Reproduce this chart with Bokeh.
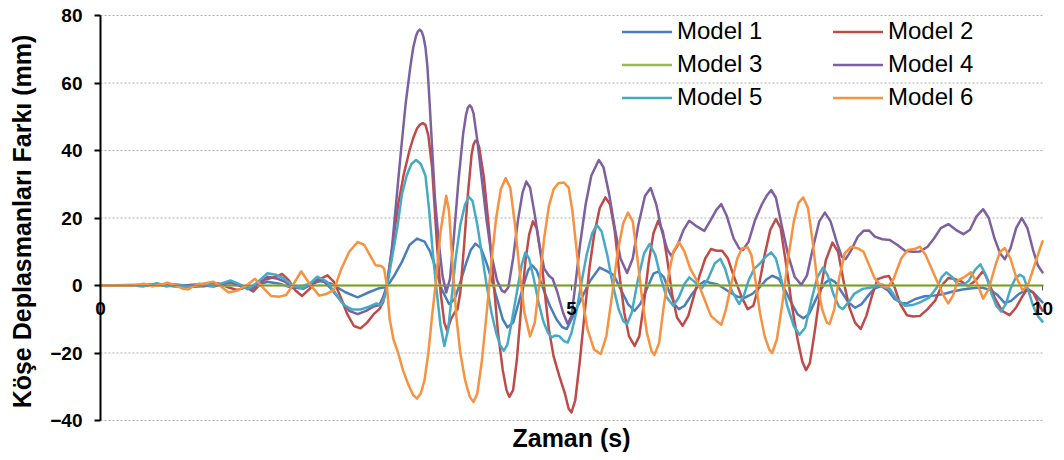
import math

from bokeh.plotting import figure
from bokeh.models import Range1d, FixedTicker, Legend, LegendItem, Label
from bokeh.embed import file_html
from bokeh.resources import INLINE

# Time axis (s) and corner displacement difference (mm) for each model
T1 = [0, 0.5, 0.8, 1.0, 1.2, 1.4, 1.6, 1.77, 1.9, 2.05,
      2.2, 2.34, 2.45, 2.6, 2.73, 2.85, 2.96, 3.02, 3.05, 3.12,
      3.2, 3.28, 3.36, 3.44, 3.5, 3.56, 3.62, 3.7, 3.76, 3.82,
      3.88, 3.93, 3.98, 4.04, 4.1, 4.16, 4.22, 4.27, 4.32, 4.38,
      4.44, 4.5, 4.54, 4.58, 4.63, 4.7, 4.77, 4.84, 4.9, 4.95,
      5.0, 5.05, 5.12, 5.2, 5.3, 5.38, 5.45, 5.52, 5.6, 5.67,
      5.73, 5.8, 5.87, 5.92, 5.98, 6.04, 6.1, 6.14, 6.2, 6.28,
      6.35, 6.41, 6.47, 6.54, 6.6, 6.68, 6.76, 6.84, 6.92, 7.0,
      7.07, 7.13, 7.2, 7.27, 7.34, 7.4, 7.46, 7.52, 7.58, 7.64,
      7.7, 7.75, 7.8, 7.87, 7.94, 8.01, 8.08, 8.15, 8.22, 8.29,
      8.36, 8.43, 8.5, 8.56, 8.65, 8.75, 8.85, 8.95, 9.05, 9.15,
      9.25, 9.35, 9.45, 9.52, 9.6, 9.67, 9.75, 9.83, 9.9, 9.95,
      10.0]
V1 = [0, 0, 0.3, -0.3, 0.5, 0.3, -0.5, 1.1, 0.5, -0.8,
      0.3, 1.3, 0.5, -2, -3.5, -2, -0.8, -0.5, 0, 3,
      7, 12, 13.9, 13, 10, 5, -1, -5.5, -4, 1,
      6.5, 10.5, 12.4, 11, 6.5, 1, -5, -10, -12.4, -11,
      -5, 1, 4.5, 6, 4.5, -1, -6, -10, -12.3, -12.9,
      -10, -7, -3, 1.5, 5.3, 4.2, 3, -1, -5.5, -7.5,
      -5.5, -1, 3.5, 4.1, 2.5, -2, -5.8, -7, -6, -2.5,
      0, 1.3, 0.8, 0.4, -0.5, -2, -3.3, -3.6, -2.5, -0.5,
      1.8, 2.9, 2, -1.5, -5.5, -8.5, -9.7, -8.5, -5, -1.5,
      1, 1.8, 1, -2, -5, -6.6, -5.5, -3, -0.8, -0.2,
      -1.5, -4, -5.2, -5.3, -4, -3.2, -3, -2.5, -1.8, -1.2,
      -0.8, -0.6, -1.3, -2.8, -5.2, -4.5, -2.5, -1.3, -2, -3.5,
      -5]

T2 = [0, 0.5, 0.7, 0.9, 1.1, 1.25, 1.35, 1.45, 1.55, 1.62,
      1.74, 1.85, 1.93, 2.0, 2.07, 2.14, 2.22, 2.3, 2.41, 2.48,
      2.55, 2.62, 2.69, 2.76, 2.83, 2.9, 2.96, 3.0, 3.04, 3.1,
      3.16, 3.22, 3.28, 3.32, 3.36, 3.39, 3.42, 3.45, 3.48, 3.52,
      3.57, 3.61, 3.65, 3.68, 3.72, 3.76, 3.79, 3.82, 3.86, 3.9,
      3.94, 3.96, 3.98, 4.0, 4.02, 4.07, 4.12, 4.17, 4.22, 4.27,
      4.31, 4.34, 4.38, 4.42, 4.47, 4.51, 4.55, 4.59, 4.63, 4.68,
      4.72, 4.76, 4.81, 4.87, 4.93, 4.97, 5.0, 5.04, 5.09, 5.14,
      5.19, 5.24, 5.3, 5.36, 5.41, 5.46, 5.51, 5.56, 5.61, 5.67,
      5.72, 5.77, 5.82, 5.87, 5.92, 5.97, 6.02, 6.07, 6.12, 6.18,
      6.24, 6.3, 6.36, 6.42, 6.48, 6.54, 6.6, 6.66, 6.72, 6.8,
      6.87, 6.93, 6.99, 7.05, 7.11, 7.17, 7.22, 7.28, 7.34, 7.4,
      7.45, 7.49, 7.53, 7.58, 7.64, 7.7, 7.77, 7.83, 7.89, 7.95,
      8.01, 8.07, 8.13, 8.19, 8.25, 8.31, 8.37, 8.43, 8.49, 8.56,
      8.63, 8.7, 8.78, 8.86, 8.93, 9.0, 9.07, 9.14, 9.21, 9.29,
      9.37, 9.43, 9.49, 9.57, 9.65, 9.72, 9.78, 9.84, 9.9, 9.96,
      10.0]
V2 = [0, 0, 0.2, -0.3, -0.2, 0.6, -0.5, -1.3, -0.5, -1.8,
      1.7, 2.5, 3.4, 1.5, -1.5, -3.1, -1, 1.5, 3, 1,
      -3.5, -8.5, -12, -12.7, -11, -8.5, -7, -5, 0, 12,
      24, 33, 40, 43.7, 46.5, 47.6, 48.1, 47.6, 44.5, 35,
      13, -2, -11, -13.4, -10, -8, -7, -2, 12, 27,
      39, 41.8, 42.9, 42.6, 41, 32, 18, 2, -14, -25,
      -31, -33, -31, -22, -5, 7, 15, 19, 17, 8,
      -3, -13, -21, -26.8, -32, -36.5, -37.6, -34, -22, -8,
      5, 15, 23, 26.1, 24, 16, 3, -8, -15, -17.9,
      -15, -5, 7, 15.5, 19.2, 16, 7, -3, -9.5, -11.9,
      -9, -3, 3, 8, 10.8, 10.3, 10.3, 8, 3, -3,
      -7, -6, 0, 9, 16.5, 19.7, 17, 6, -6, -16,
      -22.5, -25.1, -23, -14, -2, 7.5, 12.7, 10, 1, -6.5,
      -11, -12.9, -9, -3, 1.9, 2.5, 2.8, -0.5, -5.5, -8.8,
      -9.2, -9, -7, -4.5, 0, 2.2, 1.9, 1.2, -0.2, 1.5,
      4.4, 1, -3.5, -7.5, -8.8, -6.5, -3.5, -1, -2, -5.5,
      -7.5]

T3 = [0, 10]
V3 = [0, 0]

T4 = [0, 0.6, 0.8, 1.0, 1.2, 1.38, 1.5, 1.6, 1.77, 1.88,
      1.95, 2.05, 2.15, 2.22, 2.3, 2.38, 2.45, 2.55, 2.64, 2.73,
      2.82, 2.9, 2.96, 3.0, 3.04, 3.09, 3.14, 3.19, 3.24, 3.29,
      3.32, 3.35, 3.37, 3.39, 3.41, 3.43, 3.45, 3.47, 3.49, 3.51,
      3.55, 3.59, 3.63, 3.67, 3.71, 3.75, 3.8, 3.85, 3.88, 3.9,
      3.92, 3.94, 3.96, 4.0, 4.05, 4.1, 4.15, 4.21, 4.26, 4.29,
      4.33, 4.38, 4.43, 4.48, 4.52, 4.56, 4.61, 4.66, 4.71, 4.76,
      4.8, 4.85, 4.91, 4.96, 5.0, 5.04, 5.09, 5.15, 5.21, 5.29,
      5.34, 5.4, 5.46, 5.52, 5.59, 5.65, 5.71, 5.78, 5.84, 5.9,
      5.96, 6.02, 6.06, 6.12, 6.19, 6.25, 6.33, 6.41, 6.48, 6.54,
      6.59, 6.65, 6.72, 6.78, 6.82, 6.88, 6.95, 7.02, 7.07, 7.12,
      7.17, 7.23, 7.3, 7.37, 7.44, 7.5, 7.57, 7.63, 7.69, 7.75,
      7.82, 7.87, 7.91, 7.97, 8.04, 8.1, 8.16, 8.22, 8.3, 8.38,
      8.46, 8.54, 8.62, 8.7, 8.78, 8.85, 8.92, 9.0, 9.08, 9.16,
      9.23, 9.3, 9.37, 9.43, 9.49, 9.55, 9.6, 9.66, 9.72, 9.78,
      9.84, 9.9, 9.95, 10.0]
V4 = [0, 0.3, -0.3, 0.3, -0.3, 1, -0.3, -1.3, 2.6, 2,
      1.2, -0.5, -1, 0, 1.8, 1, -1, -4.5, -7.5, -8.5,
      -7.5, -6.2, -5.8, -3.5, 0, 10, 25, 40, 54, 65,
      70.5, 74, 75.3, 75.8, 75.2, 73.5, 70.5, 65, 56, 46,
      26, 13, 3, -2.1, 2, 14, 31, 45, 50.5, 52.7,
      53.4, 52.7, 51, 43, 31, 19, 9, 1.5, -1.5, -2,
      -0.5, 8, 19, 27.5, 30.8, 29, 21, 12, 5, 2.9,
      2, -2, -8, -11.4, -9, 0, 12, 24, 32.5, 37.2,
      35, 27, 17, 8, 3.7, 8, 18, 26.5, 28.9, 24,
      16, 10.5, 8.8, 11.5, 16.5, 19.2, 17.5, 16.2, 19.5, 22.5,
      24.1, 20.5, 14, 11, 10.5, 13, 19.5, 24, 26.5, 28.3,
      26, 18, 9, 2.5, 0.2, 3, 12, 19, 21.6, 19,
      12.5, 8.5, 7.8, 10.5, 14.5, 16.2, 16.3, 14.5, 13.7, 13.5,
      12, 10.3, 10, 10.1, 11.5, 14, 17, 18.2, 16.5, 15.2,
      16.5, 20.5, 22.6, 20, 14, 9.5, 7.8, 11, 17, 20,
      17, 10.5, 6, 3.9]

T5 = [0, 0.35, 0.45, 0.6, 0.7, 0.8, 0.95, 1.05, 1.2, 1.38,
      1.47, 1.56, 1.66, 1.77, 1.86, 1.95, 2.05, 2.15, 2.22, 2.3,
      2.4, 2.5, 2.58, 2.67, 2.76, 2.85, 2.93, 2.98, 3.02, 3.05,
      3.1, 3.15, 3.2, 3.25, 3.3, 3.35, 3.4, 3.45, 3.49, 3.53,
      3.57, 3.61, 3.65, 3.69, 3.73, 3.77, 3.82, 3.87, 3.91, 3.95,
      4.0, 4.05, 4.1, 4.15, 4.2, 4.24, 4.28, 4.32, 4.37, 4.42,
      4.47, 4.51, 4.55, 4.6, 4.65, 4.7, 4.75, 4.79, 4.83, 4.87,
      4.92, 4.96, 5.0, 5.05, 5.1, 5.16, 5.22, 5.27, 5.32, 5.38,
      5.44, 5.5, 5.55, 5.59, 5.64, 5.7, 5.77, 5.83, 5.89, 5.95,
      6.01, 6.08, 6.14, 6.2, 6.25, 6.31, 6.38, 6.45, 6.52, 6.58,
      6.63, 6.7, 6.78, 6.83, 6.88, 6.94, 7.0, 7.06, 7.12, 7.17,
      7.23, 7.29, 7.36, 7.42, 7.48, 7.55, 7.61, 7.67, 7.72, 7.78,
      7.84, 7.88, 7.94, 8.0, 8.09, 8.2, 8.3, 8.38, 8.45, 8.54,
      8.62, 8.7, 8.8, 8.88, 8.93, 8.98, 9.04, 9.1, 9.17, 9.22,
      9.28, 9.34, 9.4, 9.46, 9.51, 9.56, 9.61, 9.66, 9.71, 9.76,
      9.8, 9.85, 9.9, 9.95, 10.0]
V5 = [0, 0, -0.3, 0.7, -0.3, 0.2, -0.4, 0.5, -0.2, 1.5,
      0.5, -1.1, 0.8, 3.6, 3.2, 2, -0.3, -0.8, 0.5, 2.6,
      1.2, -2.5, -5.7, -7.1, -7.1, -6.3, -5.3, -5.8, -3, 1,
      9, 17, 27, 32.5, 36, 37.2, 36, 32.5, 22, 9,
      -2, -12, -17.9, -13, -3, 8, 18, 24, 26.3, 25,
      18, 9, 0, -8, -14, -17.5, -19.4, -17.5, -10, -2,
      6, 9.8, 8, 2, -5, -10.5, -14, -15.4, -14.8, -15,
      -16.5, -16.9, -14, -8, 0, 9, 15.5, 17.9, 16, 9,
      0, -7, -10.5, -11.4, -8, 1, 9.5, 12.3, 9, 2,
      -3.5, -6, -3.5, 0.5, 2.4, 1, -1, 2, 6.5, 7.9,
      5, -1.5, -5.5, -3, 1.5, 5, 6.5, 8.5, 9.8, 8,
      1.5, -6, -12, -14.6, -12.5, -4, 2.5, 5.3, 3, -2.5,
      -6.3, -7, -5, -2.5, -1, -0.5, 0.3, -1, -4, -6,
      -5.8, -5, -3.5, -0.5, 2.5, 3.9, 2.5, 0.4, 0.4, 1.5,
      4.5, 6.3, 3, -2.5, -6, -7.7, -5.5, -1, 2, 3.2,
      2.5, -1.5, -6, -9, -10.7]

T6 = [0, 0.35, 0.46, 0.55, 0.65, 0.71, 0.8, 0.88, 0.93, 1.0,
      1.1, 1.2, 1.28, 1.36, 1.45, 1.55, 1.64, 1.72, 1.81, 1.9,
      1.97, 2.04, 2.13, 2.22, 2.32, 2.4, 2.48, 2.55, 2.64, 2.73,
      2.8, 2.86, 2.92, 2.98, 3.01, 3.04, 3.07, 3.11, 3.16, 3.21,
      3.27, 3.32, 3.36, 3.4, 3.44, 3.48, 3.52, 3.56, 3.61, 3.67,
      3.7, 3.74, 3.78, 3.82, 3.87, 3.92, 3.96, 4.0, 4.05, 4.1,
      4.15, 4.2, 4.25, 4.3, 4.35, 4.4, 4.45, 4.5, 4.56, 4.61,
      4.66, 4.71, 4.76, 4.81, 4.86, 4.92, 4.97, 5.01, 5.06, 5.11,
      5.17, 5.24, 5.31, 5.37, 5.43, 5.49, 5.55, 5.6, 5.65, 5.7,
      5.75, 5.8, 5.85, 5.88, 5.93, 5.98, 6.03, 6.08, 6.14, 6.2,
      6.26, 6.34, 6.41, 6.48, 6.54, 6.59, 6.64, 6.7, 6.76, 6.81,
      6.87, 6.91, 6.95, 7.0, 7.05, 7.1, 7.13, 7.18, 7.24, 7.3,
      7.36, 7.41, 7.46, 7.51, 7.56, 7.61, 7.66, 7.71, 7.74, 7.79,
      7.84, 7.9, 7.97, 8.04, 8.1, 8.16, 8.22, 8.29, 8.35, 8.42,
      8.5, 8.57, 8.64, 8.7, 8.76, 8.83, 8.9, 8.96, 9.0, 9.05,
      9.1, 9.17, 9.24, 9.3, 9.37, 9.43, 9.5, 9.55, 9.6, 9.66,
      9.72, 9.79, 9.85, 9.92, 10.0]
V6 = [0, 0, 0.5, -0.2, 0.3, 0.8, 0, -1, -1.2, 0,
      0.6, 1.1, -0.3, -2.1, -1.5, 0, 2, -0.5, -3.1, -3.3,
      -2.8, 0, 4.2, 0.5, -3, -2.5, -1.2, 4.5, 10, 12.9,
      12, 9, 6, 5.8, 5, 0, -10, -16, -20, -25,
      -29.5, -32.5, -33.5, -32, -28, -20, -9, 1, 16, 26.6,
      22, 5, -10, -20, -28, -33, -34.5, -32, -22, -8,
      7, 20, 28.5, 31.8, 29, 18, 4, -8, -15.1, -11,
      1, 14, 23.5, 28.5, 30.3, 30.5, 29, 22, 9, -3,
      -13, -19, -20.3, -15, -3, 10, 18.5, 21.6, 19, 8,
      -4, -14, -19.5, -20.6, -17, -6, 3, 10, 12.9, 10,
      5, 1, -4, -9, -10.5, -11.6, -7, 1, 8, 11,
      11.3, 9, 2, -8, -15, -19, -20, -16, -5, 8,
      19, 24.5, 26.1, 23, 13, 1, -7, -11, -11.4, -7,
      2, 9.5, 11.5, 11, 10, 6, 2, 0, -0.7, 2,
      8, 10.5, 10.8, 11.5, 9, 4.5, 0, -3.5, -5.3, -3,
      1.5, 2.5, 3.9, 1, -3.9, -1, 6, 10, 11.1, 8,
      2.5, -1.5, 0.5, 6.5, 13.1]

SERIES = [
    ("Model 1", T1, V1, "#4A7EBB"),
    ("Model 2", T2, V2, "#BE4B48"),
    ("Model 3", T3, V3, "#98B954"),
    ("Model 4", T4, V4, "#7D60A0"),
    ("Model 5", T5, V5, "#46AAC5"),
    ("Model 6", T6, V6, "#F69240"),
]
for name, t, v, _ in SERIES:
    if len(t) != len(v):
        raise ValueError(f"{name}: {len(t)} times vs {len(v)} values")

X_MIN, X_MAX = 0, 10
Y_MIN, Y_MAX = -40, 80
X_TICKS = [0, 5, 10]
Y_TICKS = [-40, -20, 0, 20, 40, 60, 80]
X_TITLE = "Zaman (s)"
Y_TITLE = "Köşe Deplasmanları Farkı (mm)"
FONT = "Liberation Sans"

W, H = 1064, 460
# pixel placement of the data box inside the page
LEFT, RIGHT, TOP, BOTTOM = 100, 1042, 15, 420
sx = (RIGHT - LEFT) / (X_MAX - X_MIN)
sy = (BOTTOM - TOP) / (Y_MAX - Y_MIN)
# The frame covers the whole page so that axis numbers and titles, which sit
# outside the 0-10 s / -40-80 mm box, are never clipped.
x_lo = X_MIN - LEFT / sx
x_hi = X_MAX + (W - RIGHT) / sx
y_hi = Y_MAX + TOP / sy
y_lo = Y_MIN - (H - BOTTOM) / sy

p = figure(width=W, height=H, output_backend="svg", toolbar_location=None,
           x_range=Range1d(x_lo, x_hi), y_range=Range1d(y_lo, y_hi),
           min_border=0)
p.outline_line_color = None
p.background_fill_color = "white"
p.border_fill_color = "white"
p.xgrid.visible = False
p.ygrid.visible = False

# dotted horizontal grid between 0 and 10 s
p.segment(x0=[X_MIN] * len(Y_TICKS), y0=Y_TICKS, x1=[X_MAX] * len(Y_TICKS), y1=Y_TICKS,
          line_color="#b0b0b0", line_width=1, line_dash="2 2")

xa = p.xaxis[0]
xa.fixed_location = 0
xa.bounds = (X_MIN, X_MAX)
xa.ticker = FixedTicker(ticks=X_TICKS)
xa.axis_line_color = "#868686"
xa.axis_line_width = 1
xa.major_tick_line_color = "#595959"
xa.major_tick_in = 0
xa.major_tick_out = 5
xa.minor_tick_line_color = None
xa.major_label_text_font = FONT
xa.major_label_text_font_style = "bold"
xa.major_label_text_font_size = "19px"
xa.major_label_text_color = "black"
xa.major_label_standoff = 11

ya = p.yaxis[0]
ya.fixed_location = X_MIN
ya.bounds = (Y_MIN, Y_MAX)
ya.ticker = FixedTicker(ticks=Y_TICKS)
ya.axis_line_color = "black"
ya.axis_line_width = 2
ya.major_tick_line_color = "black"
ya.major_tick_line_width = 2
ya.major_tick_in = 0
ya.major_tick_out = 6
ya.minor_tick_line_color = None
ya.major_label_text_font = FONT
ya.major_label_text_font_style = "bold"
ya.major_label_text_font_size = "19px"
ya.major_label_text_color = "black"
ya.major_label_standoff = 12

# axis titles
p.add_layout(Label(x=X_MIN + (21.5 - LEFT) / sx, y=Y_MAX - (221 - TOP) / sy,
                   text=Y_TITLE, angle=90, angle_units="deg",
                   text_align="center", text_baseline="middle",
                   text_font=FONT, text_font_style="bold", text_font_size="25px",
                   text_color="black"))
p.add_layout(Label(x=(X_MIN + X_MAX) / 2, y=Y_MAX - (437 - TOP) / sy,
                   text=X_TITLE, text_align="center", text_baseline="middle",
                   text_font=FONT, text_font_style="bold", text_font_size="25px",
                   text_color="black"))

renderers = {}
for name, t, v, color in SERIES:
    renderers[name] = p.line(t, v, line_color=color, line_width=2.5,
                             line_join="round", line_cap="round")


def make_legend(names, loc):
    return Legend(
        items=[LegendItem(label=n, renderers=[renderers[n]]) for n in names],
        location=loc, orientation="vertical",
        label_text_font=FONT, label_text_font_size="24px", label_text_color="black",
        glyph_width=50, glyph_height=29, label_height=29, label_standoff=5,
        spacing=4, padding=0, margin=0,
        border_line_color=None, background_fill_alpha=0,
    )


LEG_BOTTOM = 111.5
p.add_layout(make_legend(["Model 1", "Model 3", "Model 5"], (622, H - LEG_BOTTOM)))
p.add_layout(make_legend(["Model 2", "Model 4", "Model 6"], (833, H - LEG_BOTTOM)))

open("out.html", "w").write(file_html(p, INLINE))
